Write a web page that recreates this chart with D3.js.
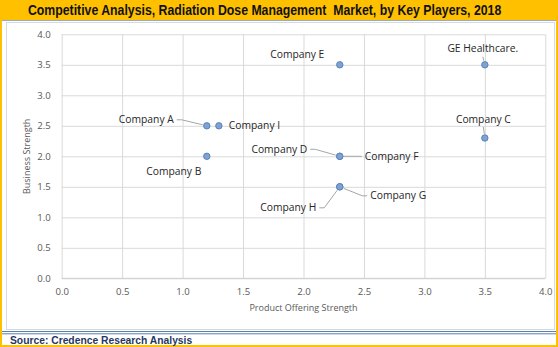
<!DOCTYPE html>
<html>
<head>
<meta charset="utf-8">
<script src="https://cdn.jsdelivr.net/npm/d3@7"></script>
<style>
  html, body { margin: 0; padding: 0; background: #fff; }
  svg { display: block; }
</style>
</head>
<body>
<svg id="chart" width="558" height="347"></svg>
<script>
// ---- data ----
const companies = ["Company A", "Company I", "Company B", "Company E", "GE Healthcare.",
                   "Company C", "Company D", "Company F", "Company G", "Company H"];
const productOffering  = [1.2, 1.3, 1.2, 2.3, 3.5, 3.5, 2.3, 2.3, 2.3, 2.3];
const businessStrength = [2.5, 2.5, 2.0, 3.5, 3.5, 2.3, 2.0, 2.0, 1.5, 1.5];
const xTicks = [0, 0.5, 1.0, 1.5, 2.0, 2.5, 3.0, 3.5, 4.0];
const yTicks = [0, 0.5, 1.0, 1.5, 2.0, 2.5, 3.0, 3.5, 4.0];

const titleText  = "Competitive Analysis, Radiation Dose Management  Market, by Key Players, 2018";
const sourceText = "Source: Credence Research Analysis";
const xTitle = "Product Offering Strength";
const yTitle = "Business Strength";

// ---- label placement (pixel offsets from each point) ----
const labelLayout = [
  { dx: -33,   dy: -6,  anchor: "end",    leader: "side" },   // Company A
  { dx: 10,    dy: 0,   anchor: "start",  leader: null },     // Company I
  { dx: -33,   dy: 15,  anchor: "middle", leader: null },     // Company B
  { dx: -42.5, dy: -10, anchor: "middle", leader: null },     // Company E
  { dx: -2,    dy: -16, anchor: "middle", leader: "below" },  // GE Healthcare.
  { dx: -1.5,  dy: -19, anchor: "middle", leader: "below" },  // Company C
  { dx: -32.5, dy: -7,  anchor: "end",    leader: "side" },   // Company D
  { dx: 25,    dy: 0,   anchor: "start",  leader: "side" },   // Company F
  { dx: 30.5,  dy: 9,   anchor: "start",  leader: "side" },   // Company G
  { dx: -23.5, dy: 21,  anchor: "end",    leader: "side" }    // Company H
];

const svg = d3.select("#chart");
const W = 558, H = 347;

// ---- frame: orange border + title band ----
svg.append("rect").attr("x", 0).attr("y", 0).attr("width", W).attr("height", H).attr("fill", "#FFC000");
svg.append("rect").attr("x", 2).attr("y", 20).attr("width", W - 4).attr("height", H - 22).attr("fill", "#ffffff");
svg.append("line").attr("x1", 2).attr("x2", W - 2).attr("y1", 20.5).attr("y2", 20.5)
  .attr("stroke", "#8fabd3").attr("stroke-width", 1);

// title, squeezed horizontally to a narrow bold face
const titleWidth = 474;
const title = svg.append("text")
  .attr("x", 0).attr("y", 0)
  .attr("font-family", "'Liberation Sans Narrow', 'Liberation Sans', Arial, sans-serif")
  .attr("font-weight", "bold").attr("font-size", 14)
  .attr("fill", "#111")
  .style("white-space", "pre")
  .text(titleText);
const naturalW = title.node().getComputedTextLength();
title.attr("transform", `translate(28,14.5) scale(${titleWidth / naturalW},1)`);

// chart area box
svg.append("rect").attr("x", 6.5).attr("y", 22.5).attr("width", 548).attr("height", 307)
  .attr("fill", "#fff").attr("stroke", "#d9d9d9");

// double rule above source line
svg.append("line").attr("x1", 2).attr("x2", W - 2).attr("y1", 331.5).attr("y2", 331.5)
  .attr("stroke", "#5b80b2").attr("stroke-width", 1.2);
svg.append("line").attr("x1", 2).attr("x2", W - 2).attr("y1", 333.8).attr("y2", 333.8)
  .attr("stroke", "#5b80b2").attr("stroke-width", 1);

svg.append("text")
  .attr("x", 10).attr("y", 344)
  .attr("font-family", "'Liberation Sans', Arial, sans-serif")
  .attr("font-weight", "bold").attr("font-size", 10.3)
  .attr("fill", "#1f3864")
  .text(sourceText);

// ---- scales ----
const x = d3.scaleLinear().domain([0, 4]).range([61.7, 545.3]);
const y = d3.scaleLinear().domain([0, 4]).range([278.3, 34.3]);

const tickFont = "'Open Sans', 'Noto Sans', sans-serif";

// gridlines
const gx = svg.append("g").attr("transform", `translate(0,${y(0)})`)
  .call(d3.axisBottom(x).tickValues(xTicks).tickSize(-(y(0) - y(4))).tickFormat(""));
gx.select(".domain").remove();
gx.selectAll(".tick line").attr("stroke", "#d9d9d9");

const gy = svg.append("g").attr("transform", `translate(${x(0)},0)`)
  .call(d3.axisLeft(y).tickValues(yTicks).tickSize(-(x(4) - x(0))).tickFormat(""));
gy.select(".domain").remove();
gy.selectAll(".tick line").attr("stroke", "#d9d9d9");

// bottom axis line
svg.append("line").attr("x1", x(0)).attr("x2", x(4)).attr("y1", y(0)).attr("y2", y(0))
  .attr("stroke", "#cfcfcf");

// tick labels
const ax = svg.append("g").attr("transform", `translate(0,${y(0)})`)
  .call(d3.axisBottom(x).tickValues(xTicks).tickSize(0).tickPadding(10).tickFormat(d3.format(".1f")));
ax.select(".domain").remove();
ax.selectAll("text").attr("font-family", tickFont).attr("font-size", 9.6).attr("fill", "#595959");

const ay = svg.append("g").attr("transform", `translate(${x(0)},0)`)
  .call(d3.axisLeft(y).tickValues(yTicks).tickSize(0).tickPadding(11).tickFormat(d3.format(".1f")));
ay.select(".domain").remove();
ay.selectAll("text").attr("font-family", tickFont).attr("font-size", 9.6).attr("fill", "#595959");

// axis titles
svg.append("text")
  .attr("x", (x(0) + x(4)) / 2).attr("y", 311)
  .attr("text-anchor", "middle")
  .attr("font-family", tickFont).attr("font-size", 9).attr("fill", "#595959")
  .text(xTitle);

svg.append("text")
  .attr("transform", `translate(30,${(y(0) + y(4)) / 2}) rotate(-90)`)
  .attr("text-anchor", "middle")
  .attr("font-family", tickFont).attr("font-size", 9).attr("fill", "#595959")
  .text(yTitle);

// ---- points, labels and leader lines ----
const pts = companies.map((name, i) => ({
  name,
  px: x(productOffering[i]),
  py: y(businessStrength[i]),
  lay: labelLayout[i]
}));

const r = 3.2;
const leaderG = svg.append("g");
pts.forEach(p => {
  const L = p.lay;
  if (!L.leader) return;
  const ly = p.py + L.dy;
  let path;
  if (L.leader === "side") {
    const edge = p.px + L.dx + (L.anchor === "end" ? 3 : -3);
    const tail = edge + (L.anchor === "end" ? 5 : -5);
    const ddx = p.px - tail, ddy = p.py - ly;
    const len = Math.hypot(ddx, ddy);
    const ex = p.px - ddx / len * (r + 1), ey = p.py - ddy / len * (r + 1);
    path = [[edge, ly], [tail, ly], [ex, ey]];
  } else {
    const sx = p.px + L.dx, sy = ly + 8;
    const ddx = p.px - sx, ddy = p.py - sy;
    const len = Math.hypot(ddx, ddy);
    path = [[sx, sy], [p.px - ddx / len * (r + 1), p.py - ddy / len * (r + 1)]];
  }
  leaderG.append("path")
    .attr("d", d3.line()(path))
    .attr("fill", "none").attr("stroke", "#a6a6a6").attr("stroke-width", 1);
});

svg.append("g").selectAll("circle").data(pts).join("circle")
  .attr("cx", d => d.px).attr("cy", d => d.py).attr("r", r)
  .attr("fill", "#7ea3d3").attr("stroke", "#5a82bb").attr("stroke-width", 1);

svg.append("g").selectAll("text").data(pts).join("text")
  .attr("x", d => d.px + d.lay.dx).attr("y", d => d.py + d.lay.dy)
  .attr("dy", "0.35em")
  .attr("text-anchor", d => d.lay.anchor)
  .attr("font-family", tickFont).attr("font-size", 10.3).attr("fill", "#262626")
  .text(d => d.name);
</script>
</body>
</html>
